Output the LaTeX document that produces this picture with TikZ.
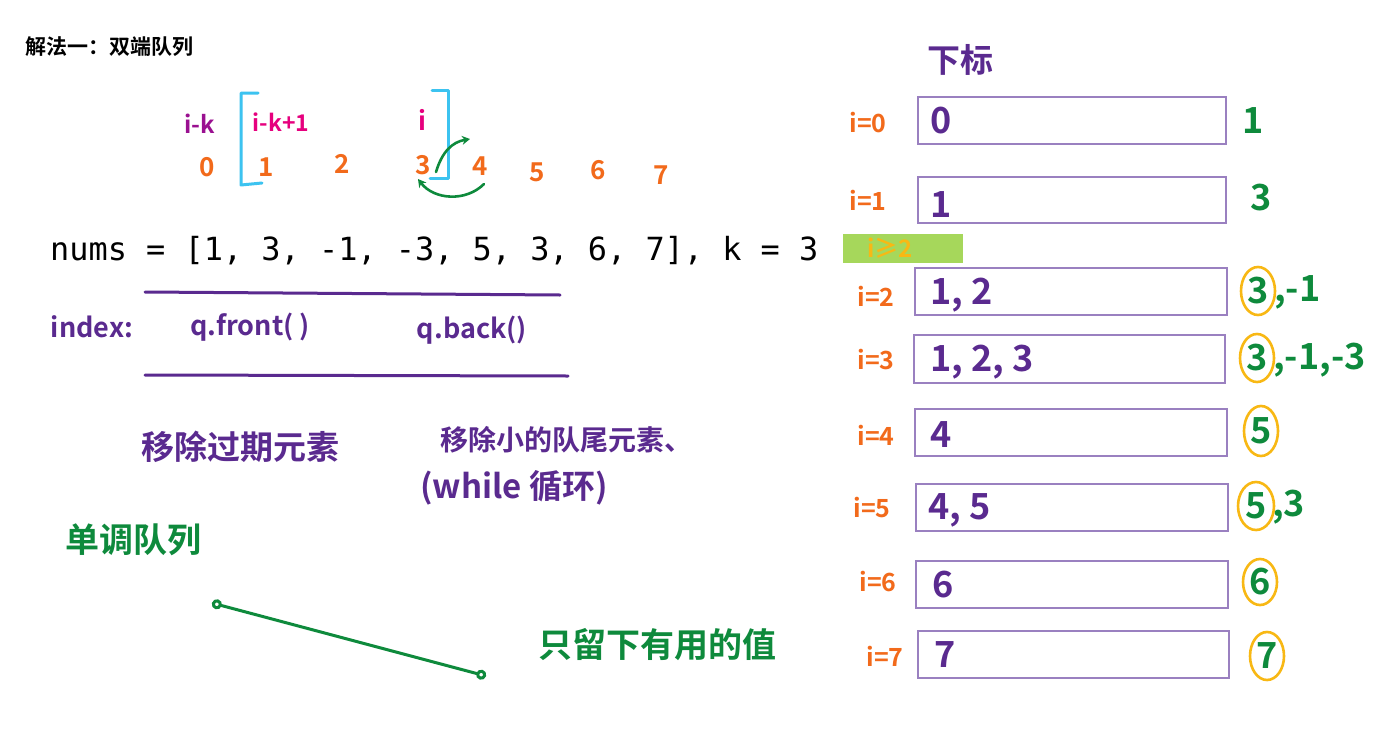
\documentclass[tikz,border=0pt]{standalone}
\usepackage{fontspec}
\newfontfamily\cjk{Noto Sans CJK SC}
\newfontfamily\cjkb{Noto Sans CJK SC Bold}
\setmonofont{DejaVu Sans Mono}
\usetikzlibrary{arrows.meta}
\definecolor{hpurple}{HTML}{5A2A8F}
\definecolor{horange}{HTML}{F26A1B}
\definecolor{hgreen}{HTML}{0E8A3C}
\definecolor{hpink}{HTML}{E6007E}
\definecolor{hmag}{HTML}{9A1090}
\definecolor{hcyan}{HTML}{3CC3F0}
\definecolor{hyellow}{HTML}{F8B814}
\definecolor{hlime}{HTML}{A6D75B}
\definecolor{boxc}{HTML}{9A80C0}
\tikzset{
  hw/.style={inner sep=0pt, anchor=center},
  idx/.style={hw, text=horange, font={\cjkb\fontsize{26}{28}\selectfont}},
  ilab/.style={hw, text=horange, font={\cjkb\fontsize{25}{27}\selectfont}},
  cont/.style={hw, anchor=west, text=hpurple, font={\cjkb\fontsize{36}{38}\selectfont}},
  res/.style={hw, text=hgreen, font={\cjkb\fontsize{36}{38}\selectfont}},
  rowbox/.style={draw=boxc, line width=1.3pt},
  ring/.style={draw=hyellow, line width=2.6pt},
  pline/.style={draw=hpurple, line width=3pt, line cap=round},
  gline/.style={draw=hgreen, line width=3pt, line cap=round},
  pcn/.style={hw, text=hpurple, font={\cjkb\fontsize{33}{36}\selectfont}},
  gcn/.style={hw, text=hgreen, font={\cjkb\fontsize{34}{36}\selectfont}},
}
\begin{document}
\begin{tikzpicture}[x=1pt,y=-1pt]
\useasboundingbox[fill=white] (0,0) rectangle (1394,728);
% title
\node[hw, anchor=west, font={\cjkb\fontsize{21}{23}\selectfont}] (title) at (25,47) {解法一：双端队列};
% top labels
\node[hw, text=hmag, font={\cjkb\fontsize{24}{26}\selectfont}] (ik) at (200,124) {i-k};
\node[hw, text=hpink, font={\cjkb\fontsize{23}{26}\selectfont}] (ik1) at (281,122) {i-k+1};
\node[hw, text=hpink, font={\cjkb\fontsize{26}{28}\selectfont}] (ii) at (422,120) {i};
% brackets
\draw[draw=hcyan, line width=3pt, line cap=round, line join=round] (258,93) -- (241,93) -- (241,185) -- (262,183);
\draw[draw=hcyan, line width=3pt, line cap=round, line join=round] (432,90) -- (448,90) -- (448,178) -- (430,178);
% index numbers
\node[idx] (n0) at (207,167) {0};
\node[idx] (n1) at (266,167) {1};
\node[idx] (n2) at (342,164) {2};
\node[idx] (n3) at (423,165) {3};
\node[idx] (n4) at (480,166) {4};
\node[idx] (n5) at (537,172) {5};
\node[idx] (n6) at (598,170) {6};
\node[idx] (n7) at (661,175) {7};
% green arrows
\coordinate (ua) at (436,172);
\coordinate (ub) at (470,139);
\draw[gline, line width=2.6pt, -{Stealth[length=8pt,width=9pt]}] (ua) .. controls (442,152) and (452,142) .. (ub);
\coordinate (la) at (484,184);
\coordinate (lb) at (418,179);
\draw[gline, line width=2.6pt, -{Stealth[length=8pt,width=9pt]}] (la) .. controls (466,202) and (434,200) .. (lb);
% nums line
\node[hw, anchor=west, font={\ttfamily\fontsize{31.9}{33}\selectfont}] (nums) at (50,251) {nums = [1, 3, -1, -3, 5, 3, 6, 7], k = 3};
% purple table lines
\coordinate (t1a) at (145,292); \coordinate (t1b) at (560,295);
\coordinate (t2a) at (145,375); \coordinate (t2b) at (568,376);
\draw[pline] (t1a) -- (t1b);
\draw[pline] (t2a) -- (t2b);
\node[hw, text=hpurple, font={\cjkb\fontsize{27}{30}\selectfont}] (index) at (92,327) {index:};
\node[hw, text=hpurple, font={\cjkb\fontsize{27}{30}\selectfont}] (front) at (250,327) {q.front( )};
\node[hw, text=hpurple, font={\cjkb\fontsize{27}{30}\selectfont}] (back) at (472,330) {q.back()};
% chinese notes
\node[pcn] (rm1) at (240,447) {移除过期元素};
\node[pcn, anchor=west, font={\cjkb\fontsize{28}{30}\selectfont}] (rm2) at (440,440) {移除小的队尾元素、};
\node[pcn, anchor=west] (rm3) at (420,488) {(while 循环)};
\node[gcn] (mono) at (133,540) {单调队列};
\coordinate (la1) at (212,603);
\coordinate (la2) at (486,676);
\draw[gline, {Circle[open,length=10pt,width=10pt]}-{Circle[open,length=10pt,width=10pt]}] (la1) -- (la2);
\node[gcn, anchor=west] (keep) at (538,645) {只留下有用的值};
% right side
\node[pcn] (xb) at (960,60) {下标};
\fill[hlime] (843,234) rectangle (963,263);
\node[hw, text=hyellow, font={\cjkb\fontsize{24}{26}\selectfont}] (ge2) at (890,248) {i≥2};
% rows
\draw[rowbox] (918,97) rectangle (1226,144);
\node[ilab] (l0) at (868,123) {i=0};
\node[cont] (c0) at (930,121) {0};
\node[res] (r0) at (1253,121) {1};

\draw[rowbox] (918,177) rectangle (1226,223);
\node[ilab] (l1) at (868,200) {i=1};
\node[cont] (c1) at (930,205) {1};
\node[res] (r1) at (1261,198) {3};

\draw[rowbox] (915,268) rectangle (1227,315);
\node[ilab] (l2) at (876,296) {i=2};
\node[cont] (c2) at (930,295) {1, 2};
\node[res] (r2a) at (1258,291) {3};
\node[res, anchor=west] (r2b) at (1274,292) {,-1};
\draw[ring] (r2a) ellipse (17pt and 24pt);

\draw[rowbox] (914,335) rectangle (1225,383);
\node[ilab] (l3) at (876,360) {i=3};
\node[cont] (c3) at (930,362) {1, 2, 3};
\node[res] (r3a) at (1257,358) {3};
\node[res, anchor=west] (r3b) at (1273,360) {,-1,-3};
\draw[ring] (r3a) ellipse (17pt and 24pt);

\draw[rowbox] (915,409) rectangle (1227,456);
\node[ilab] (l4) at (876,435) {i=4};
\node[cont] (c4) at (930,435) {4};
\node[res] (r4) at (1261,431) {5};
\draw[ring] (r4) ellipse (17pt and 25pt);

\draw[rowbox] (916,484) rectangle (1228,531);
\node[ilab] (l5) at (872,508) {i=5};
\node[cont] (c5) at (928,510) {4, 5};
\node[res] (r5a) at (1256,506) {5};
\node[res, anchor=west] (r5b) at (1272,507) {,3};
\draw[ring] (r5a) ellipse (18pt and 24pt);

\draw[rowbox] (916,561) rectangle (1228,608);
\node[ilab] (l6) at (878,582) {i=6};
\node[cont] (c6) at (932,585) {6};
\node[res] (r6) at (1260,582) {6};
\draw[ring] (r6) ellipse (17pt and 23pt);

\draw[rowbox] (918,631) rectangle (1229,678);
\node[ilab] (l7) at (885,656) {i=7};
\node[cont] (c7) at (934,655) {7};
\node[res] (r7) at (1267,656) {7};
\draw[ring] (r7) ellipse (17pt and 24pt);
\end{tikzpicture}
\end{document}
